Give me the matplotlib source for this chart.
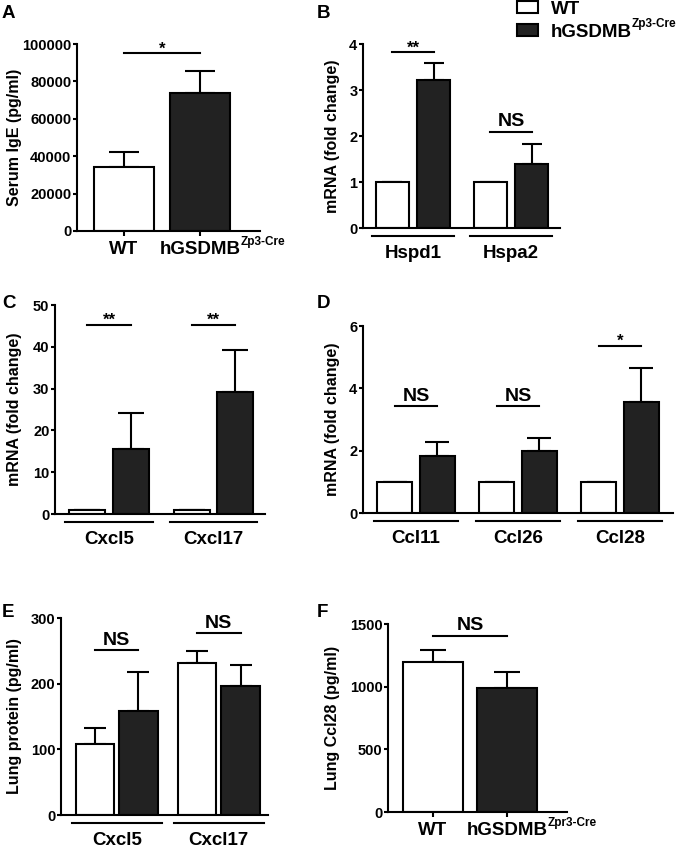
import matplotlib
matplotlib.use('Agg')
import matplotlib.pyplot as plt
import matplotlib.transforms as mtransforms
from matplotlib.patches import Patch

plt.rcParams['font.family'] = ['Liberation Sans', 'DejaVu Sans']
plt.rcParams['font.weight'] = 'bold'

W, H = 677, 846
DARK = '#222222'

# A: serum IgE
a_labels = ['WT', 'hGSDMB']
a_sup = ['', 'Zp3-Cre']
a_mean = [34000, 74000]
a_err = [8500, 11500]

# B: heat shock genes
b_genes = ['Hspd1', 'Hspa2']
b_wt = [1.0, 1.0]
b_ko = [3.22, 1.40]
b_ko_err = [0.36, 0.42]
b_sig = ['**', 'NS']
b_sig_y = [3.82, 2.09]

# C: chemokines
c_genes = ['Cxcl5', 'Cxcl17']
c_wt = [1.0, 1.0]
c_ko = [15.5, 29.1]
c_ko_err = [8.7, 10.1]
c_sig = ['**', '**']
c_sig_y = [45.2, 45.2]

# D
d_genes = ['Ccl11', 'Ccl26', 'Ccl28']
d_wt = [1.0, 1.0, 1.0]
d_ko = [1.82, 1.98, 3.57]
d_ko_err = [0.45, 0.42, 1.08]
d_sig = ['NS', 'NS', '*']
d_sig_y = [3.43, 3.43, 5.35]

# E: lung protein
e_genes = ['Cxcl5', 'Cxcl17']
e_wt = [108, 231]
e_wt_err = [24, 18]
e_ko = [158, 197]
e_ko_err = [60, 32]
e_sig = ['NS', 'NS']
e_sig_y = [251, 277]

# F: lung Ccl28
f_labels = ['WT', 'hGSDMB']
f_sup = ['', 'Zpr3-Cre']
f_mean = [1200, 990]
f_err = [95, 125]
f_sig_y = 1405

legend_labels = ['WT', 'hGSDMB']
legend_sup = 'Zp3-Cre'

fig = plt.figure(figsize=(W / 100, H / 100), dpi=100)


def make_ax(left, right, top, bottom, xlim, ylim, yticks):
    ax = fig.add_axes([left / W, 1 - bottom / H, (right - left) / W, (bottom - top) / H])
    ax.set_xlim(xlim)
    ax.set_ylim(ylim)
    ax.set_yticks(yticks)
    for s in ['top', 'right']:
        ax.spines[s].set_visible(False)
    for s in ['left', 'bottom']:
        ax.spines[s].set_linewidth(1.5)
    ax.tick_params(axis='y', length=3, width=1.5, pad=1, labelsize=10.5)
    ax.tick_params(axis='x', length=3.5, width=1.5)
    return ax


def bars(ax, xs, vals, errs, color, cap):
    ax.errorbar(xs, vals, yerr=[[0] * len(errs), errs], fmt='none', ecolor='black',
                elinewidth=1.5, capsize=cap, capthick=1.5, zorder=1)
    ax.bar(xs, vals, width=1, color=color, edgecolor='black', linewidth=1.5, zorder=2)


def sig_line(ax, x1, x2, y, txt):
    ax.plot([x1, x2], [y, y], color='black', lw=1.5, clip_on=False)
    if txt == 'NS':
        ax.annotate(txt, xy=((x1 + x2) / 2, y), xytext=(0, 4), textcoords='offset points',
                    ha='center', va='baseline', fontsize=14, annotation_clip=False)
    else:
        ax.annotate(txt, xy=((x1 + x2) / 2, y), xytext=(0, 0), textcoords='offset points',
                    ha='center', va='baseline', fontsize=12, annotation_clip=False)


def xlabels(ax, xs, names, sups):
    # base text centred on the tick, superscript hangs to the right
    ax.set_xticks(xs)
    ax.set_xticklabels([])
    for x, name, sup in zip(xs, names, sups):
        t = ax.annotate(name, xy=(x, 0), xycoords=('data', 'axes fraction'),
                        xytext=(0, -13.5), textcoords='offset points',
                        ha='center', va='center', fontsize=13.5)
        if sup:
            ax.annotate(sup, xy=(1, 0.62), xycoords=t, ha='left', va='bottom', fontsize=8.5)


def groups(ax, names, wt, wt_err, ko, ko_err, off, step, cap, sig, sig_y):
    xw = [i * step for i in range(len(names))]
    xk = [x + off for x in xw]
    bars(ax, xw, wt, wt_err, 'white', cap)
    bars(ax, xk, ko, ko_err, DARK, cap)
    ax.set_xticks([])
    trans = ax.get_xaxis_transform() + mtransforms.ScaledTranslation(0, -8 / 100, fig.dpi_scale_trans)
    for i, name in enumerate(names):
        ax.plot([xw[i] - 0.6, xk[i] + 0.6], [0, 0], color='black', lw=1.5,
                transform=trans, clip_on=False)
        ax.annotate(name, xy=((xw[i] + xk[i]) / 2, 0), xycoords=('data', 'axes fraction'),
                    xytext=(0, -18.5), textcoords='offset points', ha='center', va='center',
                    fontsize=13.5)
        sig_line(ax, xw[i], xk[i], sig_y[i], sig[i])


def ylab(x_px, ax_top, ax_bottom, txt):
    fig.text(x_px / W, 1 - (ax_top + ax_bottom) / 2 / H, txt, rotation=90,
             ha='center', va='center', fontsize=11.5)


def letter(x_px, y_px, txt):
    fig.text(x_px / W, 1 - y_px / H, txt, ha='left', va='center', fontsize=13.5)


# Panel A
ax_a = make_ax(77, 260, 44, 231, (-0.78, 2.27), (0, 100000), range(0, 100001, 20000))
xa = [0, 1.27]
bars(ax_a, xa, a_mean, a_err, ['white', DARK], 10.8)
xlabels(ax_a, xa, a_labels, a_sup)
sig_line(ax_a, xa[0], xa[1], 95000, '*')
ylab(15, 44, 231, 'Serum IgE (pg/ml)')
letter(2, 13, 'A')

# Panel B
ax = make_ax(363, 560, 44, 228, (-0.88, 5.09), (0, 4), range(0, 5))
groups(ax, b_genes, b_wt, [0, 0], b_ko, b_ko_err, 1.27, 2.97, 6.9, b_sig, b_sig_y)
ylab(333, 44, 228, 'mRNA (fold change)')
letter(317, 13, 'B')

# Panel C
ax = make_ax(55, 265, 305, 514, (-0.89, 4.94), (0, 50), range(0, 51, 10))
groups(ax, c_genes, c_wt, [0, 0], c_ko, c_ko_err, 1.22, 2.9, 9.5, c_sig, c_sig_y)
ylab(15, 305, 514, 'mRNA (fold change)')
letter(2, 303, 'C')

# Panel D
ax = make_ax(363, 673, 326, 513, (-0.91, 7.94), (0, 6), range(0, 7, 2))
groups(ax, d_genes, d_wt, [0, 0, 0], d_ko, d_ko_err, 1.21, 2.91, 8.8, d_sig, d_sig_y)
ylab(333, 326, 513, 'mRNA (fold change)')
letter(317, 303, 'D')

# Panel E
ax = make_ax(61, 268, 618, 815, (-0.88, 4.49), (0, 300), range(0, 301, 100))
groups(ax, e_genes, e_wt, e_wt_err, e_ko, e_ko_err, 1.13, 2.65, 8.2, e_sig, e_sig_y)
ylab(15, 618, 815, 'Lung protein (pg/ml)')
letter(2, 612, 'E')

# Panel F
ax = make_ax(388, 567, 624, 812, (-0.75, 2.23), (0, 1500), range(0, 1501, 500))
xf = [0, 1.23]
bars(ax, xf, f_mean, f_err, ['white', DARK], 9.3)
xlabels(ax, xf, f_labels, f_sup)
sig_line(ax, xf[0], xf[1], f_sig_y, 'NS')
ylab(333, 624, 812, 'Lung Ccl28 (pg/ml)')
letter(317, 612, 'F')

# shared legend
handles = [Patch(facecolor='white', edgecolor='black', linewidth=1.5),
           Patch(facecolor=DARK, edgecolor='black', linewidth=1.5)]
leg = fig.legend(handles, legend_labels, loc='upper left',
                 bbox_to_anchor=(517 / W, 1 - 1 / H), frameon=False, fontsize=13.5,
                 handlelength=1.1, handleheight=0.6, handletextpad=0.7, labelspacing=0.3,
                 borderpad=0, borderaxespad=0)
# superscript next to the legend label, placed once the legend has been laid out
fig.canvas.draw()
bb = leg.get_texts()[1].get_window_extent(fig.canvas.get_renderer())
fig.text(bb.x1 / W, (bb.y0 + 0.62 * bb.height) / H, legend_sup, ha='left', va='bottom',
         fontsize=8.5)

fig.savefig('out.png', dpi=100)
